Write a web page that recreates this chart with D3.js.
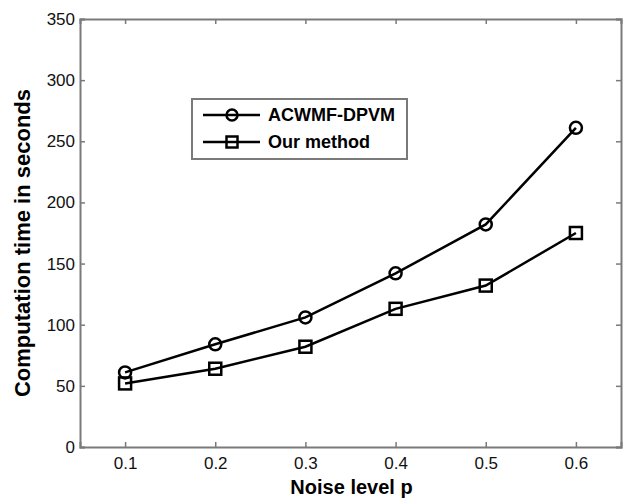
<!DOCTYPE html>
<html>
<head>
<meta charset="utf-8">
<script src="https://cdn.jsdelivr.net/npm/d3@7"></script>
<style>
body { margin: 0; background: #fff; }
text { font-family: "Liberation Sans", Arial, sans-serif; }
</style>
</head>
<body>
<div id="chart"></div>
<script>
var noiseLevels = [0.1, 0.2, 0.3, 0.4, 0.5, 0.6];
var acwmfTimes = [61, 84, 106, 142, 182, 261];
var ourTimes = [52, 64, 82, 113, 132, 175];
var seriesNames = ["ACWMF-DPVM", "Our method"];
var xTicks = [0.1, 0.2, 0.3, 0.4, 0.5, 0.6];
var yTicks = [0, 50, 100, 150, 200, 250, 300, 350];

var w = 627, h = 500;
var plotLeft = 80, plotRight = 621, plotTop = 19, plotBottom = 447;

var svg = d3.select("#chart").append("svg")
	.attr("width", w)
	.attr("height", h);

var x = d3.scaleLinear().domain([0.05, 0.65]).range([plotLeft, plotRight]);
var y = d3.scaleLinear().domain([0, 350]).range([plotBottom, plotTop]);

var axisColor = "#7a7a7a";

// box axes, ticks inside like matlab
var gx = svg.append("g").attr("transform", "translate(0," + plotBottom + ")")
	.call(d3.axisBottom(x).tickValues(xTicks).tickSize(-5).tickPadding(10).tickFormat(d3.format(".1f")));
var gxt = svg.append("g").attr("transform", "translate(0," + plotTop + ")")
	.call(d3.axisTop(x).tickValues(xTicks).tickSize(-5).tickFormat(""));
var gy = svg.append("g").attr("transform", "translate(" + plotLeft + ",0)")
	.call(d3.axisLeft(y).tickValues(yTicks).tickSize(-5).tickPadding(5));
var gyr = svg.append("g").attr("transform", "translate(" + plotRight + ",0)")
	.call(d3.axisRight(y).tickValues(yTicks).tickSize(-5).tickFormat(""));

[gx, gxt, gy, gyr].forEach(function(g){
	g.select(".domain").attr("stroke", axisColor).attr("stroke-width", 2);
	g.selectAll(".tick line").attr("stroke", axisColor).attr("stroke-width", 1.5);
	g.selectAll(".tick text").attr("fill", "#111").style("font-size", "17px")
		.style("font-family", "'Liberation Sans', Arial, sans-serif");
});

// axis labels
svg.append("text")
	.attr("x", (plotLeft + plotRight) / 2 + 1)
	.attr("y", 494)
	.attr("text-anchor", "middle")
	.style("font-size", "20px")
	.style("font-weight", "bold")
	.text("Noise level p");

svg.append("text")
	.attr("transform", "translate(30," + ((plotTop + plotBottom) / 2 + 10) + ") rotate(-90)")
	.attr("text-anchor", "middle")
	.style("font-size", "22px")
	.style("font-weight", "bold")
	.text("Computation time in seconds");

var line = d3.line()
	.x(function (d, i) { return x(noiseLevels[i]); })
	.y(function (d) { return y(d); });

function drawSeries(vals, marker){
	svg.append("path")
		.datum(vals)
		.attr("d", line)
		.attr("fill", "none")
		.attr("stroke", "#000")
		.attr("stroke-width", 2.5);
	if (marker == "circle"){
		svg.selectAll(null).data(vals).enter().append("circle")
			.attr("cx", function (d, i) { return x(noiseLevels[i]); })
			.attr("cy", function (d) { return y(d); })
			.attr("r", 6)
			.attr("fill", "none")
			.attr("stroke", "#000")
			.attr("stroke-width", 2.5);
	}
	else{
		svg.selectAll(null).data(vals).enter().append("rect")
			.attr("x", function (d, i) { return x(noiseLevels[i]) - 6; })
			.attr("y", function (d) { return y(d) - 6; })
			.attr("width", 12)
			.attr("height", 12)
			.attr("fill", "none")
			.attr("stroke", "#000")
			.attr("stroke-width", 2.5);
	}
}
drawSeries(acwmfTimes, "circle");
drawSeries(ourTimes, "square");

// legend
var lg = svg.append("g");
lg.append("rect")
	.attr("x", 192).attr("y", 99)
	.attr("width", 215).attr("height", 60)
	.attr("fill", "#fff")
	.attr("stroke", axisColor)
	.attr("stroke-width", 2);

var rows = [115, 142];
seriesNames.forEach(function(name, k){
	var ly = rows[k];
	lg.append("line")
		.attr("x1", 203).attr("x2", 260)
		.attr("y1", ly).attr("y2", ly)
		.attr("stroke", "#000").attr("stroke-width", 2.5);
	if (k == 0){
		lg.append("circle").attr("cx", 232).attr("cy", ly).attr("r", 5.5)
			.attr("fill", "none").attr("stroke", "#000").attr("stroke-width", 2.5);
	}
	else{
		lg.append("rect").attr("x", 226.5).attr("y", ly - 5.5).attr("width", 11).attr("height", 11)
			.attr("fill", "none").attr("stroke", "#000").attr("stroke-width", 2.5);
	}
	lg.append("text")
		.attr("x", 268).attr("y", ly)
		.attr("dy", ".36em")
		.style("font-size", "18px")
		.style("font-weight", "bold")
		.text(name);
});
</script>
</body>
</html>
